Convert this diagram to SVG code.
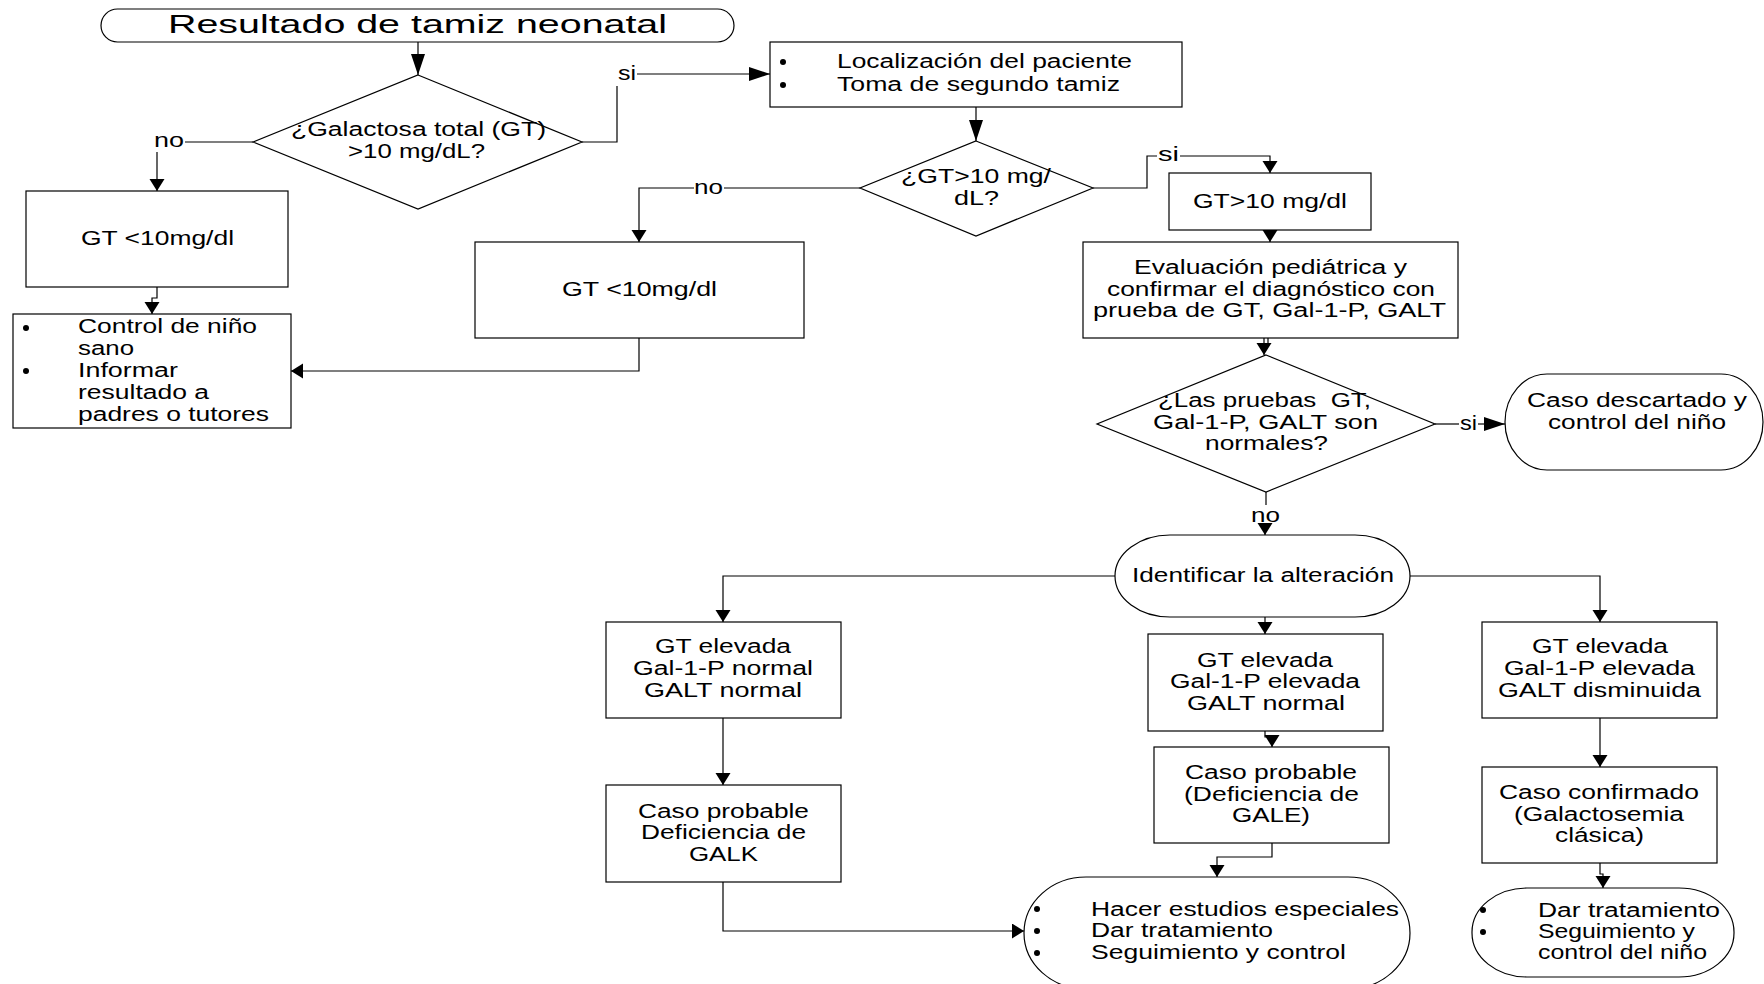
<svg xmlns="http://www.w3.org/2000/svg" width="1764" height="984" viewBox="0 0 1764 984">
<style>
text{font-family:"Liberation Sans",Arial,sans-serif;font-size:19.5px;fill:#000}
.t{font-size:26px}
.s{fill:#fff;stroke:#000;stroke-width:1.2}
.c{fill:none;stroke:#000;stroke-width:1.2}
.b{fill:#000}
</style>
<defs>
<marker id="ah" markerUnits="userSpaceOnUse" markerWidth="14" markerHeight="16" refX="12" refY="7.5" orient="auto"><path d="M0,0 L12,7.5 L0,15 z" fill="#000"/></marker>
<marker id="ahL" markerUnits="userSpaceOnUse" markerWidth="23" markerHeight="15" refX="21" refY="7" orient="auto"><path d="M0,0 L21,7 L0,14 z" fill="#000"/></marker>
</defs>
<rect width="1764" height="984" fill="#fff"/>
<g id="connectors">
<path class="c" d="M418,42 V75" marker-end="url(#ahL)"/>
<path class="c" d="M253,142 H185"/>
<path class="c" d="M157,152 V191" marker-end="url(#ah)"/>
<path class="c" d="M157,287 V298 H152 V314" marker-end="url(#ah)"/>
<path class="c" d="M582,142 H617 V86"/>
<path class="c" d="M637,74 H770" marker-end="url(#ahL)"/>
<path class="c" d="M976,107 V141" marker-end="url(#ahL)"/>
<path class="c" d="M860,188 H724"/>
<path class="c" d="M694,188 H639 V242" marker-end="url(#ah)"/>
<path class="c" d="M639,338 V371 H291" marker-end="url(#ah)"/>
<path class="c" d="M1093,188 H1147 V156 H1157"/>
<path class="c" d="M1180,156 H1270 V173" marker-end="url(#ah)"/>
<path class="c" d="M1270,230 V242" marker-end="url(#ah)"/>
<path class="c" d="M1264,338 V355" marker-end="url(#ah)"/>
<path class="c" d="M1268,338 V345"/>
<path class="c" d="M1435,424 H1459"/>
<path class="c" d="M1478,424 H1505" marker-end="url(#ahL)"/>
<path class="c" d="M1266,492 V505"/>
<path class="c" d="M1265,524 V535" marker-end="url(#ah)"/>
<path class="c" d="M1115,576 H723 V622" marker-end="url(#ah)"/>
<path class="c" d="M723,718 V785" marker-end="url(#ah)"/>
<path class="c" d="M723,882 V931 H1024" marker-end="url(#ah)"/>
<path class="c" d="M1265,617 V634" marker-end="url(#ah)"/>
<path class="c" d="M1265,731 V737 H1272 V747" marker-end="url(#ah)"/>
<path class="c" d="M1272,843 V857 H1217 V877" marker-end="url(#ah)"/>
<path class="c" d="M1410,576 H1600 V622" marker-end="url(#ah)"/>
<path class="c" d="M1600,718 V767" marker-end="url(#ah)"/>
<path class="c" d="M1600,863 V874 H1603 V888" marker-end="url(#ah)"/>
<text x="154" y="147" textLength="30" lengthAdjust="spacingAndGlyphs">no</text>
<text x="618" y="80" textLength="18" lengthAdjust="spacingAndGlyphs">si</text>
<text x="694" y="194" textLength="29" lengthAdjust="spacingAndGlyphs">no</text>
<text x="1158" y="161" textLength="21" lengthAdjust="spacingAndGlyphs">si</text>
<text x="1460" y="430" textLength="17" lengthAdjust="spacingAndGlyphs">si</text>
<text x="1251" y="522" textLength="29" lengthAdjust="spacingAndGlyphs">no</text>
</g>
<g id="title">
<rect class="s" x="101" y="9" width="633" height="33" rx="16.5"/>
<text class="t" x="168" y="33" textLength="499" lengthAdjust="spacingAndGlyphs">Resultado de tamiz neonatal</text>
</g>
<g id="decision1">
<polygon class="s" points="418,75 582,142 418,209 253,142"/>
<text x="291" y="136" textLength="255" lengthAdjust="spacingAndGlyphs">¿Galactosa total (GT)</text>
<text x="348" y="158" textLength="137" lengthAdjust="spacingAndGlyphs">&gt;10 mg/dL?</text>
</g>
<g id="boxA">
<rect class="s" x="26" y="191" width="262" height="96"/>
<text x="81" y="245" textLength="153" lengthAdjust="spacingAndGlyphs">GT &lt;10mg/dl</text>
</g>
<g id="boxB">
<rect class="s" x="13" y="314" width="278" height="114"/>
<circle class="b" cx="26" cy="328" r="3"/>
<circle class="b" cx="26" cy="371" r="3"/>
<text x="78" y="333" textLength="179" lengthAdjust="spacingAndGlyphs">Control de niño</text>
<text x="78" y="355" textLength="56" lengthAdjust="spacingAndGlyphs">sano</text>
<text x="78" y="377" textLength="100" lengthAdjust="spacingAndGlyphs">Informar</text>
<text x="78" y="399" textLength="131" lengthAdjust="spacingAndGlyphs">resultado a</text>
<text x="78" y="421" textLength="191" lengthAdjust="spacingAndGlyphs">padres o tutores</text>
</g>
<g id="boxLoc">
<rect class="s" x="770" y="42" width="412" height="65"/>
<circle class="b" cx="783" cy="62" r="3"/>
<circle class="b" cx="783" cy="85" r="3"/>
<text x="837" y="68" textLength="295" lengthAdjust="spacingAndGlyphs">Localización del paciente</text>
<text x="837" y="91" textLength="283" lengthAdjust="spacingAndGlyphs">Toma de segundo tamiz</text>
</g>
<g id="decision2">
<polygon class="s" points="976,141 1093,188 976,236 860,188"/>
<text x="901" y="183" textLength="150" lengthAdjust="spacingAndGlyphs">¿GT&gt;10 mg/</text>
<text x="954" y="205" textLength="45" lengthAdjust="spacingAndGlyphs">dL?</text>
</g>
<g id="boxC">
<rect class="s" x="475" y="242" width="329" height="96"/>
<text x="562" y="296" textLength="155" lengthAdjust="spacingAndGlyphs">GT &lt;10mg/dl</text>
</g>
<g id="boxGT10">
<rect class="s" x="1169" y="173" width="202" height="57"/>
<text x="1193" y="208" textLength="154" lengthAdjust="spacingAndGlyphs">GT&gt;10 mg/dl</text>
</g>
<g id="boxEval">
<rect class="s" x="1083" y="242" width="375" height="96"/>
<text x="1134" y="274" textLength="273" lengthAdjust="spacingAndGlyphs">Evaluación pediátrica y</text>
<text x="1107" y="296" textLength="328" lengthAdjust="spacingAndGlyphs">confirmar el diagnóstico con</text>
<text x="1093" y="317" textLength="353" lengthAdjust="spacingAndGlyphs">prueba de GT, Gal-1-P, GALT</text>
</g>
<g id="decision3">
<polygon class="s" points="1266,355 1435,424 1266,492 1097,424"/>
<text x="1158" y="407" textLength="213" lengthAdjust="spacingAndGlyphs">¿Las pruebas&#160; GT,</text>
<text x="1153" y="429" textLength="225" lengthAdjust="spacingAndGlyphs">Gal-1-P, GALT son</text>
<text x="1205" y="450" textLength="123" lengthAdjust="spacingAndGlyphs">normales?</text>
</g>
<g id="descartado">
<rect class="s" x="1505" y="374" width="258" height="96" rx="42" ry="48"/>
<text x="1527" y="407" textLength="220" lengthAdjust="spacingAndGlyphs">Caso descartado y</text>
<text x="1548" y="429" textLength="178" lengthAdjust="spacingAndGlyphs">control del niño</text>
</g>
<g id="identificar">
<rect class="s" x="1115" y="535" width="295" height="82" rx="55" ry="41"/>
<text x="1132" y="582" textLength="262" lengthAdjust="spacingAndGlyphs">Identificar la alteración</text>
</g>
<g id="boxLeft">
<rect class="s" x="606" y="622" width="235" height="96"/>
<text x="655" y="653" textLength="136" lengthAdjust="spacingAndGlyphs">GT elevada</text>
<text x="633" y="675" textLength="180" lengthAdjust="spacingAndGlyphs">Gal-1-P normal</text>
<text x="644" y="697" textLength="158" lengthAdjust="spacingAndGlyphs">GALT normal</text>
</g>
<g id="boxGALK">
<rect class="s" x="606" y="785" width="235" height="97"/>
<text x="638" y="818" textLength="171" lengthAdjust="spacingAndGlyphs">Caso probable</text>
<text x="641" y="839" textLength="165" lengthAdjust="spacingAndGlyphs">Deficiencia de</text>
<text x="689" y="861" textLength="69" lengthAdjust="spacingAndGlyphs">GALK</text>
</g>
<g id="hacer">
<rect class="s" x="1024" y="877" width="386" height="112" rx="62" ry="56"/>
<circle class="b" cx="1037" cy="909" r="3"/>
<circle class="b" cx="1037" cy="931" r="3"/>
<circle class="b" cx="1037" cy="953" r="3"/>
<text x="1091" y="916" textLength="308" lengthAdjust="spacingAndGlyphs">Hacer estudios especiales</text>
<text x="1091" y="937" textLength="182" lengthAdjust="spacingAndGlyphs">Dar tratamiento</text>
<text x="1091" y="959" textLength="255" lengthAdjust="spacingAndGlyphs">Seguimiento y control</text>
</g>
<g id="boxMiddle">
<rect class="s" x="1148" y="634" width="235" height="97"/>
<text x="1197" y="667" textLength="136" lengthAdjust="spacingAndGlyphs">GT elevada</text>
<text x="1170" y="688" textLength="190" lengthAdjust="spacingAndGlyphs">Gal-1-P elevada</text>
<text x="1187" y="710" textLength="158" lengthAdjust="spacingAndGlyphs">GALT normal</text>
</g>
<g id="boxGALE">
<rect class="s" x="1154" y="747" width="235" height="96"/>
<text x="1185" y="779" textLength="172" lengthAdjust="spacingAndGlyphs">Caso probable</text>
<text x="1184" y="801" textLength="175" lengthAdjust="spacingAndGlyphs">(Deficiencia de</text>
<text x="1232" y="822" textLength="78" lengthAdjust="spacingAndGlyphs">GALE)</text>
</g>
<g id="boxRight">
<rect class="s" x="1482" y="622" width="235" height="96"/>
<text x="1532" y="653" textLength="136" lengthAdjust="spacingAndGlyphs">GT elevada</text>
<text x="1504" y="675" textLength="191" lengthAdjust="spacingAndGlyphs">Gal-1-P elevada</text>
<text x="1498" y="697" textLength="203" lengthAdjust="spacingAndGlyphs">GALT disminuida</text>
</g>
<g id="boxConfirmado">
<rect class="s" x="1482" y="767" width="235" height="96"/>
<text x="1499" y="799" textLength="200" lengthAdjust="spacingAndGlyphs">Caso confirmado</text>
<text x="1514" y="821" textLength="170" lengthAdjust="spacingAndGlyphs">(Galactosemia</text>
<text x="1555" y="842" textLength="89" lengthAdjust="spacingAndGlyphs">clásica)</text>
</g>
<g id="darTratamiento">
<rect class="s" x="1472" y="888" width="262" height="89" rx="55" ry="44"/>
<circle class="b" cx="1483" cy="910" r="3"/>
<circle class="b" cx="1483" cy="932" r="3"/>
<text x="1538" y="917" textLength="182" lengthAdjust="spacingAndGlyphs">Dar tratamiento</text>
<text x="1538" y="938" textLength="157" lengthAdjust="spacingAndGlyphs">Seguimiento y</text>
<text x="1538" y="959" textLength="169" lengthAdjust="spacingAndGlyphs">control del niño</text>
</g>
</svg>
